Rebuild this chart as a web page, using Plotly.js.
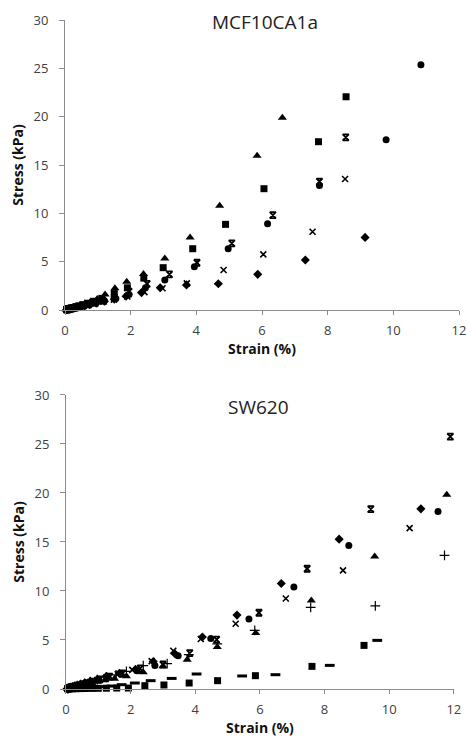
<!DOCTYPE html>
<html>
<head>
<meta charset="utf-8">
<script src="https://cdn.plot.ly/plotly-3.0.1.min.js"></script>
<style>html,body{margin:0;padding:0;background:#fff;}#chart{width:467px;height:737px;}</style>
</head>
<body>
<div id="chart"></div>
<script>
// ---------- MCF10CA1a (top panel) ----------
const topDiamondX = [0.05,0.07,0.1,0.13,0.17,0.22,0.28,0.36,0.46,0.59,0.75,0.95,1.2,1.5,1.86,2.33,2.9,3.7,4.67,5.87,7.32,9.14];
const topDiamondY = [0.04,0.05,0.08,0.1,0.13,0.17,0.21,0.27,0.35,0.44,0.56,0.7,0.9,1.12,1.42,1.8,2.3,2.6,2.72,3.69,5.17,7.51];
const topSquareX = [0.05,0.07,0.09,0.12,0.16,0.2,0.26,0.33,0.42,0.54,0.69,0.88,1.12,1.5,1.9,2.4,2.99,3.89,4.89,6.06,7.72,8.56];
const topSquareY = [0.05,0.07,0.09,0.12,0.16,0.2,0.26,0.33,0.42,0.55,0.7,0.9,1.2,1.7,2.3,3.3,4.38,6.34,8.86,12.55,17.41,22.06];
const topTriangleX = [0.04,0.06,0.08,0.1,0.13,0.17,0.22,0.29,0.37,0.48,0.61,0.78,0.98,1.22,1.52,1.88,2.39,3.04,3.81,4.71,5.85,6.62];
const topTriangleY = [0.04,0.06,0.08,0.1,0.14,0.18,0.24,0.31,0.4,0.52,0.68,0.88,1.15,1.6,2.24,2.93,3.72,5.34,7.51,10.79,15.96,19.89];
const topCrossX = [0.05,0.07,0.09,0.12,0.16,0.2,0.26,0.34,0.44,0.56,0.72,0.92,1.17,1.49,1.9,2.42,2.97,3.71,4.83,6.04,7.54,8.53];
const topCrossY = [0.03,0.05,0.07,0.09,0.12,0.15,0.19,0.25,0.32,0.41,0.52,0.66,0.85,1.08,1.4,1.85,2.25,2.76,4.14,5.76,8.1,13.55];
const topStarX = [0.05,0.07,0.09,0.12,0.16,0.2,0.26,0.34,0.43,0.55,0.7,0.9,1.15,1.5,1.95,2.5,3.18,4.02,5.08,6.33,7.75,8.55];
const topStarY = [0.04,0.06,0.08,0.1,0.13,0.17,0.22,0.28,0.36,0.46,0.59,0.76,0.98,1.3,1.9,2.7,3.69,4.89,6.89,9.82,13.27,17.85];
const topCircleX = [0.05,0.07,0.09,0.12,0.16,0.21,0.27,0.35,0.45,0.58,0.74,0.95,1.2,1.55,1.95,2.45,3.04,3.94,4.97,6.17,7.75,9.78,10.84];
const topCircleY = [0.04,0.06,0.08,0.1,0.13,0.17,0.22,0.28,0.36,0.46,0.58,0.75,0.95,1.2,1.6,2.3,3.1,4.48,6.34,8.93,12.89,17.61,25.37];

// ---------- SW620 (bottom panel) ----------
const botDiamondX = [0.05,0.07,0.09,0.12,0.16,0.21,0.27,0.35,0.45,0.58,0.75,0.97,1.25,1.65,2.15,2.7,3.37,4.22,5.29,6.66,8.45,10.98];
const botDiamondY = [0.05,0.07,0.09,0.12,0.16,0.21,0.28,0.36,0.47,0.6,0.78,1.0,1.3,1.6,2.0,2.8,3.6,5.3,7.54,10.77,15.29,18.38];
const botSquareX = [0.1,0.2,0.3,0.45,0.6,0.8,1.0,1.25,1.57,1.93,2.44,3.03,3.81,4.69,5.86,7.61,9.22];
const botSquareY = [0.01,0.02,0.03,0.04,0.05,0.06,0.07,0.08,0.1,0.1,0.34,0.41,0.61,0.85,1.36,2.31,4.45];
const botTriangleX = [0.05,0.07,0.09,0.12,0.16,0.21,0.27,0.35,0.45,0.58,0.75,0.97,1.2,1.5,1.87,2.39,3.0,3.75,4.68,5.87,7.59,9.55,11.78];
const botTriangleY = [0.03,0.05,0.07,0.09,0.12,0.16,0.21,0.27,0.35,0.45,0.57,0.73,0.9,1.05,1.3,1.7,2.31,2.99,4.28,5.71,9.04,13.52,19.81];
const botCrossX = [0.05,0.07,0.09,0.12,0.16,0.21,0.27,0.35,0.45,0.58,0.75,0.97,1.25,1.6,2.05,2.65,3.32,4.17,5.25,6.8,8.57,10.63];
const botCrossY = [0.04,0.06,0.08,0.11,0.15,0.2,0.26,0.34,0.43,0.55,0.72,0.92,1.18,1.5,1.95,2.85,3.9,5.1,6.66,9.24,12.1,16.41];
const botStarX = [0.05,0.07,0.1,0.13,0.17,0.23,0.3,0.39,0.5,0.64,0.82,1.05,1.35,1.75,2.3,3.0,3.83,4.66,5.97,7.46,9.43,11.89];
const botStarY = [0.04,0.06,0.09,0.12,0.16,0.21,0.28,0.36,0.46,0.6,0.76,0.98,1.26,1.6,2.1,2.5,3.67,5.03,7.78,12.27,18.35,25.76];
const botCircleX = [0.05,0.07,0.09,0.12,0.16,0.21,0.27,0.35,0.46,0.6,0.78,1.0,1.3,1.7,2.2,2.75,3.47,4.48,5.66,7.05,8.75,11.51];
const botCircleY = [0.04,0.06,0.08,0.11,0.15,0.2,0.26,0.34,0.44,0.57,0.74,0.95,1.2,1.5,1.85,2.4,3.4,5.16,7.14,10.4,14.64,18.11];
const botPlusX = [0.05,0.07,0.09,0.12,0.16,0.21,0.27,0.35,0.45,0.58,0.75,0.97,1.25,1.55,1.87,2.39,3.13,3.8,4.68,5.84,7.57,9.57,11.71];
const botPlusY = [0.04,0.06,0.08,0.11,0.15,0.2,0.26,0.34,0.44,0.57,0.74,0.96,1.2,1.45,1.8,2.38,2.58,3.5,4.6,5.98,8.32,8.49,13.63];
const botDashX = [0.1,0.2,0.35,0.5,0.7,0.9,1.15,1.4,1.72,2.13,2.62,3.27,4.04,5.45,6.48,8.16,9.63];
const botDashY = [0.02,0.04,0.07,0.1,0.14,0.18,0.24,0.3,0.44,0.61,0.85,1.08,1.53,1.33,1.46,2.41,4.96];

const panelTitles = ["MCF10CA1a", "SW620"];
const xTitle = "Strain (%)";
const yTitle = "Stress (kPa)";
const xTicks = [0,2,4,6,8,10,12];
const yTicks = [0,5,10,15,20,25,30];

function mk(x, y, sym, size, xa, ya, lw) {
  return {
    type: 'scatter', mode: 'markers', x: x, y: y, xaxis: xa, yaxis: ya,
    cliponaxis: false, hoverinfo: 'x+y',
    marker: {symbol: sym, size: size, color: '#000', line: {color: '#000', width: lw || 0}}
  };
}

const traces = [
  mk(topDiamondX, topDiamondY, 'diamond', 7, 'x', 'y'),
  mk(topSquareX, topSquareY, 'square', 7, 'x', 'y'),
  mk(topTriangleX, topTriangleY, 'triangle-up', 8, 'x', 'y'),
  mk(topCrossX, topCrossY, 'x-thin-open', 6, 'x', 'y', 1.6),
  mk(topStarX, topStarY, 'hourglass-open', 6, 'x', 'y', 1.8),
  mk(topCircleX, topCircleY, 'circle', 7, 'x', 'y'),
  mk(botDiamondX, botDiamondY, 'diamond', 7, 'x2', 'y2'),
  mk(botSquareX, botSquareY, 'square', 7, 'x2', 'y2'),
  mk(botTriangleX, botTriangleY, 'triangle-up', 8, 'x2', 'y2'),
  mk(botCrossX, botCrossY, 'x-thin-open', 6, 'x2', 'y2', 1.6),
  mk(botStarX, botStarY, 'hourglass-open', 6, 'x2', 'y2', 1.8),
  mk(botCircleX, botCircleY, 'circle', 7, 'x2', 'y2'),
  mk(botPlusX, botPlusY, 'cross-thin-open', 7, 'x2', 'y2', 1.2),
  mk(botDashX, botDashY, 'line-ew-open', 7, 'x2', 'y2', 3)
];

const tickFont = {family: '"Open Sans", sans-serif', size: 13, color: '#404040'};
const titleFont = {family: '"Open Sans", sans-serif', size: 14, color: '#111', weight: 'bold'};

function xax(domain, anchor) {
  return {
    domain: domain, anchor: anchor, range: [0, 12], tickvals: xTicks, ticktext: xTicks.map(String),
    showgrid: false, zeroline: false, showline: true, linecolor: '#8c8c8c', linewidth: 1,
    ticks: 'outside', ticklen: 4, tickcolor: '#8c8c8c', tickfont: tickFont, ticklabelstandoff: 4,
    title: {text: xTitle, font: titleFont, standoff: 4}, fixedrange: true
  };
}
function yax(domain, anchor) {
  return {
    domain: domain, anchor: anchor, range: [0, 30], tickvals: yTicks, ticktext: yTicks.map(String),
    showgrid: false, zeroline: false, showline: true, linecolor: '#8c8c8c', linewidth: 1,
    ticks: 'outside', ticklen: 5, tickcolor: '#8c8c8c', tickfont: tickFont, ticklabelstandoff: 8,
    title: {text: yTitle, font: titleFont, standoff: 6}, fixedrange: true
  };
}

const layout = {
  width: 467, height: 737, showlegend: false,
  paper_bgcolor: '#fff', plot_bgcolor: '#fff',
  margin: {l: 65, r: 8, t: 20, b: 48},
  xaxis: xax([0, 1], 'y'),
  yaxis: yax([0.5665, 1], 'x'),
  xaxis2: xax([0.0025, 0.987], 'y2'),
  yaxis2: yax([0, 0.4395], 'x2'),
  annotations: [
    {text: panelTitles[0], xref: 'paper', yref: 'paper', x: 0.508, y: 1.0, yanchor: 'middle', yshift: -2,
     showarrow: false, font: {family: '"Open Sans", sans-serif', size: 19, color: '#222'}},
    {text: panelTitles[1], xref: 'paper', yref: 'paper', x: 0.49, y: 0.4395, yanchor: 'middle', yshift: -12,
     showarrow: false, font: {family: '"Open Sans", sans-serif', size: 19, color: '#222'}}
  ]
};

Plotly.newPlot('chart', traces, layout, {displayModeBar: false, staticPlot: true});
</script>
</body>
</html>
